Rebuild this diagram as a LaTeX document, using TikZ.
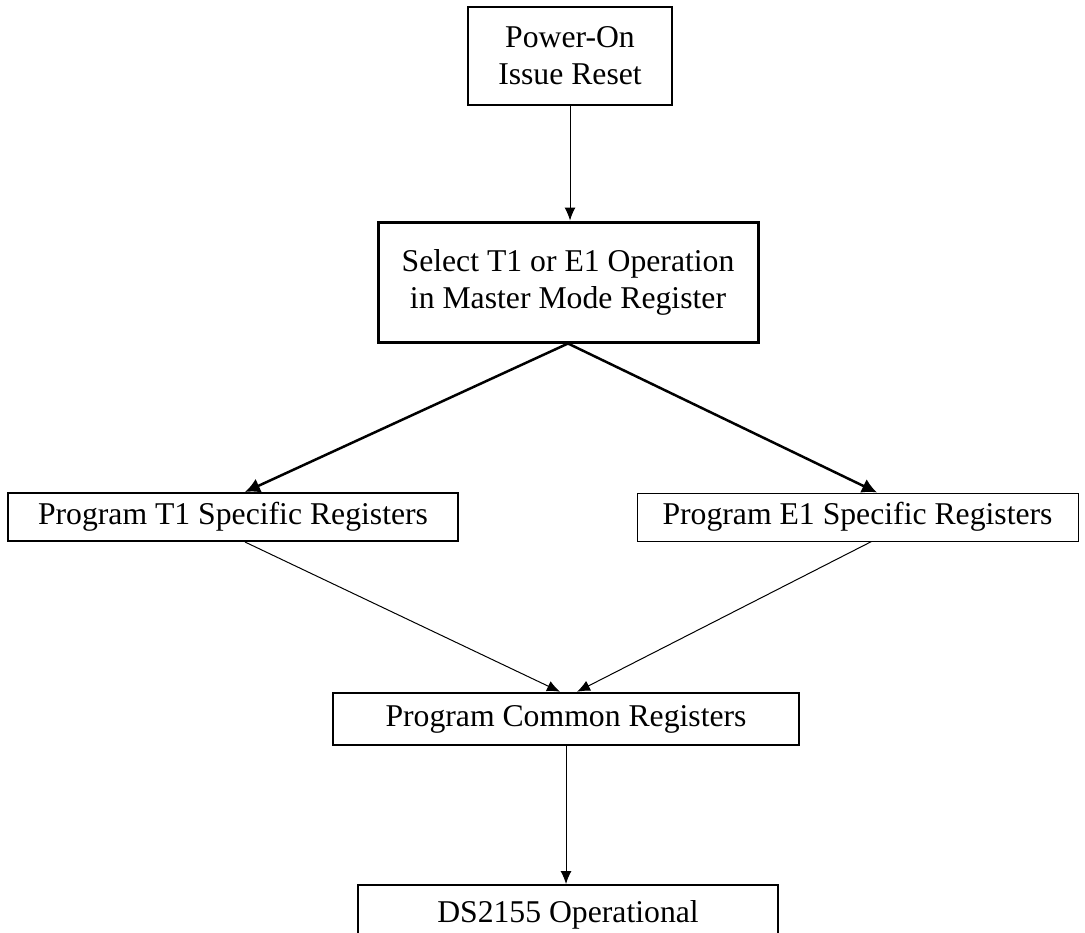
\documentclass[tikz,border=0pt]{standalone}
\usepackage{fontspec}
\setmainfont{Liberation Serif}
\usetikzlibrary{positioning,calc,arrows.meta}
\tikzstyle{block} = [draw, rectangle, inner sep=0pt, align=center, font=\fontsize{15.85pt}{18.5pt}\selectfont]
\tikzstyle{line} = [-{Latex[length=6.5pt,width=5.5pt]}, line width=0.5pt]
\tikzstyle{thickline} = [-{Latex[length=7.5pt,width=7.5pt]}, line width=1.25pt]

\begin{document}
\begin{tikzpicture}[x=0.5pt,y=-0.5pt]
    \useasboundingbox (0,0) rectangle (1085,932);
    \clip (0,0) rectangle (1085,932);

    \node [block, line width=1.25pt, minimum width=102pt, minimum height=49pt] (power) at (570,56) {Power-On\\Issue Reset};
    \node [block, line width=1.5pt, minimum width=190pt, minimum height=60pt] (select) at (568,282) {Select T1 or E1 Operation\\in Master Mode Register};
    \node [block, line width=1pt, minimum width=225pt, minimum height=24pt] (prog1) at (233,517) {Program T1 Specific Registers};
    \node [block, line width=0.5pt, minimum width=220.5pt, minimum height=24pt] (prog2) at (857.5,517) {Program E1 Specific Registers};
    \node [block, line width=1.25pt, minimum width=233pt, minimum height=26pt] (common) at (566,719) {Program Common Registers};
    \node [block, line width=1pt, minimum width=210pt, minimum height=30pt] (oper) at (568,915) {DS2155 Operational};

    \draw [line] (power.south) -- (power.south |- select.north); % connections
    \draw [thickline] (select.south) -- ($(prog1.north)+(12,0)$);
    \draw [thickline] (select.south) -- ($(prog2.north)+(19.5,0)$);
    \draw [line] ($(prog1.south)+(12,0)$) -- ($(common.north)+(-6,0)$);
    \draw [line] ($(prog2.south)+(14,0)$) -- ($(common.north)+(11,0)$);
    \draw [line] (common.south) -- (common.south |- oper.north);
\end{tikzpicture}
\end{document}
